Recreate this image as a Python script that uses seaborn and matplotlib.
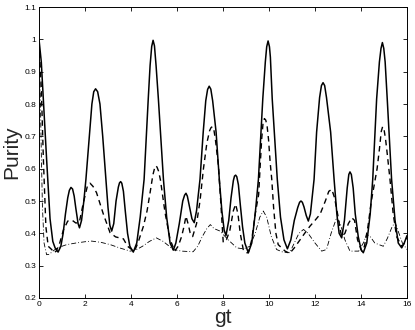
import matplotlib
matplotlib.use("Agg")
import matplotlib.pyplot as plt
import seaborn as sns
import pandas as pd

# ---- data ----
solid_gt = [0.00, 0.10, 0.20, 0.33, 0.48, 0.60, 0.70, 0.83, 0.95, 1.05, 1.15, 1.25, 1.32, 1.39, 1.46, 1.53, 1.60,
            1.70, 1.76, 1.85, 1.95, 2.04, 2.19, 2.30, 2.38, 2.46, 2.55, 2.65, 2.77, 2.91, 3.00, 3.08, 3.16, 3.25,
            3.35, 3.45, 3.50, 3.55, 3.60, 3.67, 3.75, 3.85, 3.95, 4.10, 4.25, 4.40, 4.57, 4.75, 4.83, 4.90, 4.96,
            5.02, 5.09, 5.19, 5.41, 5.55, 5.70, 5.84, 5.95, 6.10, 6.25, 6.33, 6.39, 6.45, 6.52, 6.65, 6.75, 6.85,
            7.00, 7.14, 7.25, 7.33, 7.40, 7.47, 7.55, 7.70, 7.84, 7.95, 8.05, 8.13, 8.25, 8.35, 8.45, 8.50, 8.55,
            8.60, 8.67, 8.75, 8.85, 8.95, 9.10, 9.25, 9.40, 9.54, 9.73, 9.84, 9.90, 9.96, 10.02, 10.06, 10.14,
            10.36, 10.50, 10.65, 10.80, 10.95, 11.10, 11.25, 11.33, 11.39, 11.45, 11.52, 11.62, 11.71, 11.80,
            11.96, 12.07, 12.20, 12.28, 12.35, 12.42, 12.50, 12.68, 12.83, 12.95, 13.05, 13.16, 13.28, 13.40,
            13.47, 13.52, 13.58, 13.66, 13.75, 13.88, 14.00, 14.10, 14.25, 14.40, 14.51, 14.68, 14.80, 14.87,
            14.93, 14.99, 15.05, 15.14, 15.33, 15.48, 15.62, 15.77, 15.88, 16.00]
solid_val = [1.000, 0.930, 0.800, 0.630, 0.445, 0.375, 0.355, 0.342, 0.360, 0.400, 0.460, 0.510, 0.533, 0.542,
             0.537, 0.515, 0.478, 0.430, 0.417, 0.440, 0.500, 0.567, 0.700, 0.800, 0.838, 0.847, 0.838, 0.800,
             0.700, 0.567, 0.480, 0.425, 0.407, 0.430, 0.500, 0.543, 0.556, 0.560, 0.555, 0.530, 0.470, 0.400,
             0.360, 0.342, 0.370, 0.450, 0.567, 0.816, 0.919, 0.978, 0.997, 0.980, 0.919, 0.816, 0.567, 0.450,
             0.370, 0.348, 0.370, 0.430, 0.500, 0.518, 0.524, 0.515, 0.490, 0.445, 0.433, 0.470, 0.567, 0.713,
             0.810, 0.845, 0.855, 0.846, 0.810, 0.713, 0.567, 0.470, 0.410, 0.393, 0.440, 0.510, 0.563, 0.577,
             0.580, 0.575, 0.550, 0.490, 0.420, 0.370, 0.340, 0.370, 0.460, 0.567, 0.816, 0.930, 0.977, 0.995,
             0.977, 0.945, 0.816, 0.567, 0.450, 0.380, 0.352, 0.380, 0.440, 0.480, 0.496, 0.500, 0.496, 0.482,
             0.455, 0.438, 0.460, 0.567, 0.713, 0.820, 0.857, 0.866, 0.857, 0.820, 0.713, 0.567, 0.460, 0.400,
             0.386, 0.440, 0.540, 0.582, 0.590, 0.582, 0.540, 0.460, 0.390, 0.350, 0.340, 0.370, 0.460, 0.567,
             0.816, 0.930, 0.972, 0.990, 0.972, 0.930, 0.816, 0.567, 0.440, 0.370, 0.355, 0.370, 0.393]

dashed_gt = [0.00, 0.10, 0.19, 0.30, 0.40, 0.55, 0.65, 0.75, 0.90, 1.06, 1.25, 1.45, 1.60, 1.75, 1.93, 2.10,
             2.22, 2.35, 2.50, 2.80, 3.09, 3.33, 3.55, 3.67, 3.85, 4.03, 4.15, 4.30, 4.54, 4.70, 4.83, 4.95, 5.02,
             5.07, 5.13, 5.20, 5.28, 5.48, 5.70, 5.90, 6.05, 6.20, 6.30, 6.39, 6.48, 6.57, 6.68, 6.85, 7.00, 7.15,
             7.30, 7.42, 7.48, 7.54, 7.60, 7.67, 7.80, 7.90, 8.01, 8.15, 8.30, 8.45, 8.55, 8.65, 8.75, 8.88, 9.00,
             9.10, 9.25, 9.40, 9.55, 9.61, 9.68, 9.74, 9.80, 9.86, 9.92, 9.98, 10.05, 10.12, 10.20, 10.30, 10.40,
             10.55, 10.70, 10.90, 11.10, 11.35, 11.55, 11.78, 12.00, 12.22, 12.45, 12.60, 12.73, 12.85, 13.00,
             13.10, 13.16, 13.30, 13.45, 13.60, 13.72, 13.85, 14.03, 14.15, 14.30, 14.45, 14.60, 14.70, 14.80,
             14.88, 14.94, 15.00, 15.07, 15.15, 15.26, 15.40, 15.55, 15.77, 15.90, 16.00]
dashed_val = [0.990, 0.850, 0.630, 0.420, 0.360, 0.350, 0.340, 0.345, 0.370, 0.410, 0.438, 0.440, 0.432, 0.433,
              0.495, 0.545, 0.555, 0.545, 0.526, 0.459, 0.402, 0.389, 0.385, 0.383, 0.360, 0.350, 0.345, 0.370,
              0.422, 0.470, 0.526, 0.580, 0.600, 0.609, 0.605, 0.592, 0.565, 0.464, 0.381, 0.345, 0.360, 0.390,
              0.420, 0.453, 0.430, 0.402, 0.390, 0.430, 0.500, 0.600, 0.680, 0.718, 0.727, 0.730, 0.722, 0.690,
              0.610, 0.500, 0.372, 0.380, 0.410, 0.470, 0.490, 0.460, 0.400, 0.350, 0.340, 0.340, 0.380, 0.460,
              0.520, 0.600, 0.690, 0.740, 0.755, 0.750, 0.730, 0.690, 0.620, 0.567, 0.480, 0.400, 0.365, 0.355,
              0.345, 0.338, 0.355, 0.380, 0.400, 0.422, 0.440, 0.459, 0.500, 0.530, 0.536, 0.510, 0.453, 0.410,
              0.390, 0.400, 0.430, 0.448, 0.440, 0.380, 0.345, 0.360, 0.420, 0.500, 0.560, 0.600, 0.660, 0.715,
              0.730, 0.722, 0.690, 0.640, 0.567, 0.460, 0.390, 0.360, 0.370, 0.390]

dashdot_gt = [0.00, 0.05, 0.10, 0.15, 0.22, 0.33, 0.45, 0.60, 0.80, 1.00, 1.20, 1.60, 2.00, 2.29, 2.70, 3.10,
              3.50, 3.96, 4.20, 4.50, 4.80, 5.10, 5.40, 5.84, 6.20, 6.70, 6.90, 7.10, 7.30, 7.45, 7.60, 7.87, 8.00,
              8.30, 8.60, 8.90, 9.17, 9.40, 9.60, 9.75, 9.90, 10.10, 10.33, 10.60, 10.90, 11.10, 11.30, 11.50,
              11.70, 12.00, 12.29, 12.50, 12.70, 12.94, 13.10, 13.30, 13.52, 13.90, 14.10, 14.25, 14.40, 14.60,
              14.97, 15.15, 15.35, 15.48, 15.60, 15.80, 16.00]
dashdot_val = [0.990, 0.850, 0.650, 0.480, 0.370, 0.334, 0.335, 0.345, 0.355, 0.360, 0.365, 0.370, 0.374, 0.376,
               0.372, 0.365, 0.355, 0.345, 0.348, 0.360, 0.375, 0.386, 0.375, 0.350, 0.345, 0.343, 0.360, 0.390,
               0.415, 0.427, 0.415, 0.407, 0.397, 0.375, 0.355, 0.352, 0.360, 0.400, 0.450, 0.469, 0.450, 0.390,
               0.350, 0.342, 0.340, 0.370, 0.400, 0.412, 0.400, 0.370, 0.345, 0.350, 0.400, 0.448, 0.430, 0.380,
               0.345, 0.345, 0.370, 0.397, 0.390, 0.370, 0.360, 0.385, 0.420, 0.434, 0.410, 0.370, 0.350]

x_ticks = [0, 2, 4, 6, 8, 10, 12, 14, 16]
y_ticks = [0.2, 0.3, 0.4, 0.5, 0.6, 0.7, 0.8, 0.9, 1.0, 1.1]
y_tick_labels = ["0.2", "0.3", "0.4", "0.5", "0.6", "0.7", "0.8", "0.9", "1", "1.1"]

# ---- plotting ----
sns.set_style("ticks")
plt.rcParams["font.family"] = ["Liberation Sans", "DejaVu Sans"]
plt.rcParams["xtick.direction"] = "in"
plt.rcParams["ytick.direction"] = "in"

fig = plt.figure(figsize=(4.15, 3.30), dpi=100)
ax = fig.add_axes([39 / 415, 32 / 330, 368 / 415, 291 / 330])

df_s = pd.DataFrame({"gt": solid_gt, "Purity": solid_val})
df_d = pd.DataFrame({"gt": dashed_gt, "Purity": dashed_val})
df_c = pd.DataFrame({"gt": dashdot_gt, "Purity": dashdot_val})

sns.lineplot(data=df_c, x="gt", y="Purity", ax=ax, color="black", linewidth=0.6,
             linestyle=(0, (6, 2.5, 1, 2.5)), sort=False)
sns.lineplot(data=df_d, x="gt", y="Purity", ax=ax, color="black", linewidth=1.0,
             linestyle=(0, (4, 3)), sort=False)
sns.lineplot(data=df_s, x="gt", y="Purity", ax=ax, color="black", linewidth=1.1, sort=False)

ax.set_xlim(0, 16)
ax.set_ylim(0.2, 1.1)
ax.set_xticks(x_ticks)
ax.set_xticklabels([str(t) for t in x_ticks])
ax.set_yticks(y_ticks)
ax.set_yticklabels(y_tick_labels)
ax.tick_params(axis="both", which="both", direction="in", length=3, width=0.6,
               labelsize=6, top=True, right=True, pad=2, colors="black")
for sp in ax.spines.values():
    sp.set_visible(True)
    sp.set_linewidth(0.7)
    sp.set_color("black")
ax.set_xlabel("gt", fontsize=15, labelpad=0)
ax.set_ylabel("Purity", fontsize=15, labelpad=2)

fig.savefig("out.png", dpi=100)
